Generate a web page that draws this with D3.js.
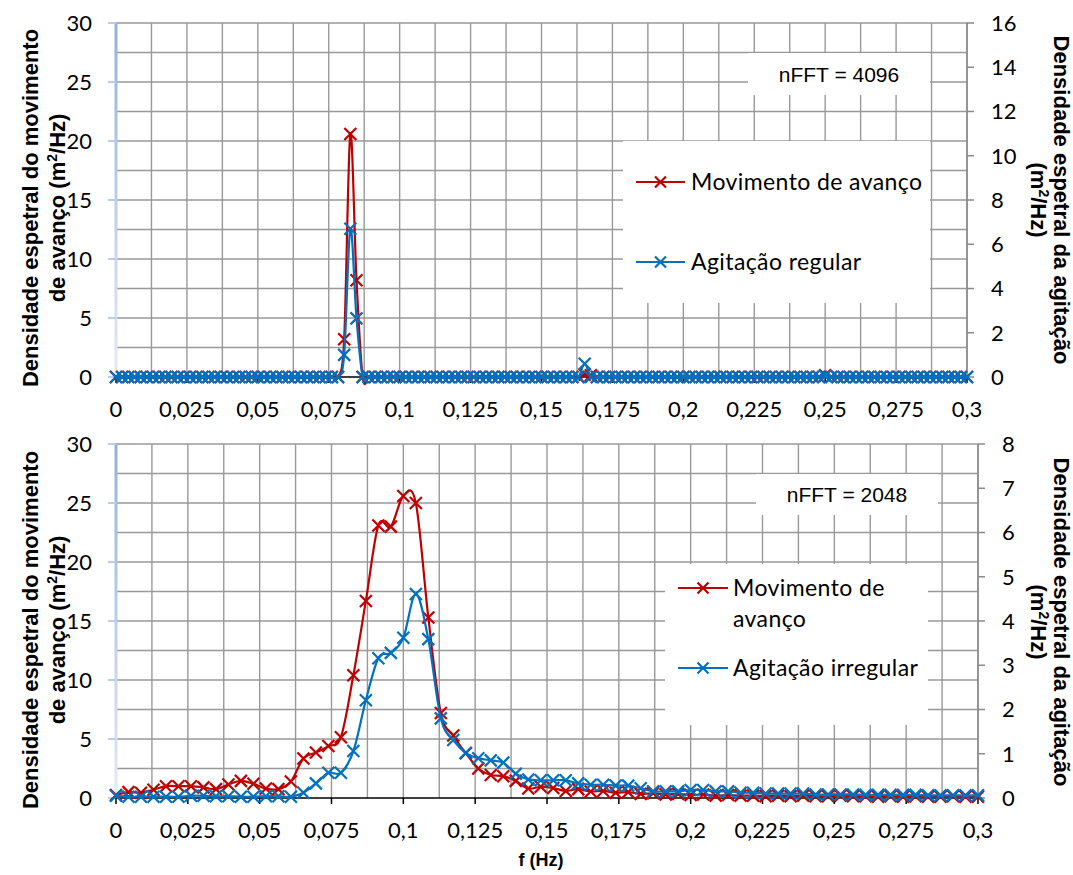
<!DOCTYPE html>
<html>
<head>
<meta charset="utf-8">
<script src="https://cdn.jsdelivr.net/npm/d3@7/dist/d3.min.js"></script>
<style>
  body { margin: 0; background: #fff; }
</style>
</head>
<body>
<svg id="chart" width="1073" height="875"></svg>
<script>
// FFT bin widths (frequency of bin k = k * df)
const dfTop = 0.3 / 138;   // nFFT = 4096
const dfBot = 0.3 / 69;    // nFFT = 2048

// top panel, regular waves: surge (left axis, m2/Hz) and wave (right axis)
const topSurge = [
  0,0,0,0,0,0,0,0,0,0, 0,0,0,0,0,0,0,0,0,0, 0,0,0,0,0,0,0,0,0,0,
  0,0,0,0,0,0,0,3.2,20.6,8.2, 0,0,0,0,0,0,0,0,0,0, 0,0,0,0,0,0,0,0,0,0,
  0,0,0,0,0,0,0,0,0,0, 0,0,0,0,0,0,0.2,0.15,0,0, 0,0,0,0,0,0,0,0,0,0,
  0,0,0,0,0,0,0,0,0,0, 0,0,0,0,0,0,0,0,0,0, 0,0,0,0,0,0.15,0,0,0,0,
  0,0,0,0,0,0,0,0,0,0, 0,0,0,0,0,0,0,0,0
];
const topWave = [
  0,0,0,0,0,0,0,0,0,0, 0,0,0,0,0,0,0,0,0,0, 0,0,0,0,0,0,0,0,0,0,
  0,0,0,0,0,0,0,1.0,6.7,2.65, 0,0,0,0,0,0,0,0,0,0, 0,0,0,0,0,0,0,0,0,0,
  0,0,0,0,0,0,0,0,0,0, 0,0,0,0,0,0,0.6,0,0,0, 0,0,0,0,0,0,0,0,0,0,
  0,0,0,0,0,0,0,0,0,0, 0,0,0,0,0,0,0,0,0,0, 0,0,0,0,0,0.05,0,0,0,0,
  0,0,0,0,0,0,0,0,0,0, 0,0,0,0,0,0,0,0,0
];

// bottom panel, irregular waves
const botSurge = [
  0.25,0.5,0.45,0.7,1.0,1.0,1.0,0.9,0.75,1.15,
  1.45,1.2,0.8,0.75,1.4,3.35,3.85,4.4,5.15,10.4,
  16.7,23.1,23.0,25.6,25.0,15.3,7.2,5.3,3.8,2.5,
  1.95,1.85,1.45,0.8,0.95,0.85,0.6,0.75,0.55,0.6,
  0.45,0.5,0.35,0.4,0.3,0.35,0.25,0.3,0.2,0.25,
  0.2,0.2,0.15,0.2,0.15,0.2,0.15,0.15,0.2,0.15,
  0.15,0.1,0.15,0.1,0.15,0.1,0.1,0.15,0.1,0.1
];
const botWave = [
  0.05,0.03,0.03,0.03,0.03,0.03,0.05,0.05,0.04,0.04,
  0.03,0.03,0.04,0.04,0.03,0.12,0.33,0.57,0.57,1.06,
  2.21,3.16,3.28,3.62,4.61,3.59,1.8,1.31,1.02,0.9,
  0.85,0.8,0.55,0.42,0.4,0.4,0.4,0.33,0.3,0.3,
  0.28,0.28,0.22,0.15,0.15,0.15,0.18,0.18,0.15,0.15,
  0.12,0.12,0.1,0.1,0.1,0.1,0.08,0.08,0.08,0.08,
  0.07,0.07,0.07,0.07,0.07,0.06,0.06,0.06,0.06,0.06
];

const xTicks = [0, 0.025, 0.05, 0.075, 0.1, 0.125, 0.15, 0.175, 0.2, 0.225, 0.25, 0.275, 0.3];
const leftTicks = [0, 5, 10, 15, 20, 25, 30];

const RED = '#c00000', BLUE = '#0070c0';
const FONT = 'Lato, Carlito, Calibri, sans-serif';
const ARIAL = '"Liberation Sans", Arial, sans-serif';

const panels = [
  {
    left: 116, right: 967, top: 23, bottom: 377,
    df: dfTop, surge: topSurge, wave: topWave,
    rightMax: 16, rightStep: 2,
    nfft: 'nFFT = 4096', nfftBox: [748, 53, 930, 95],
    legBox: [623, 141, 930, 303], legLine: [636, 685], legText: 691,
    legItems: [
      { color: RED, y: 182, lines: ['Movimento de avanço'] },
      { color: BLUE, y: 262, lines: ['Agitação regular'] }
    ],
    titleY: 208
  },
  {
    left: 116, right: 978, top: 444, bottom: 798,
    df: dfBot, surge: botSurge, wave: botWave,
    rightMax: 8, rightStep: 1,
    nfft: 'nFFT = 2048', nfftBox: [756, 474, 938, 515],
    legBox: [665, 564, 928, 725], legLine: [678, 728], legText: 733,
    legItems: [
      { color: RED, y: 588, lines: ['Movimento de', 'avanço'] },
      { color: BLUE, y: 668, lines: ['Agitação irregular'] }
    ],
    titleY: 630
  }
];

const svg = d3.select('#chart');
const defs = svg.append('defs');
const grad = defs.append('linearGradient').attr('id', 'axisBlue')
  .attr('x1', 0).attr('y1', 0).attr('x2', 0).attr('y2', 1);
grad.append('stop').attr('offset', '0%').attr('stop-color', '#93b1e0');
grad.append('stop').attr('offset', '100%').attr('stop-color', '#e2eaf6');

function cross(g, cx, cy, color, s = 6) {
  g.append('path')
    .attr('d', `M${cx - s},${cy - s}L${cx + s},${cy + s}M${cx - s},${cy + s}L${cx + s},${cy - s}`)
    .attr('stroke', color).attr('stroke-width', 2.2).attr('fill', 'none');
}

// "... (m²/Hz)" with a raised 2; shifts in px so the baseline comes back exactly
function unitLine(sel, prefix) {
  sel.append('tspan').text(prefix + '(m');
  sel.append('tspan').attr('dy', -8).style('font-size', '14px').text('2');
  sel.append('tspan').attr('dy', 8).text('/Hz)');
}

panels.forEach(p => {
  const x = d3.scaleLinear().domain([0, 0.3]).range([p.left, p.right]);
  const yL = d3.scaleLinear().domain([0, 30]).range([p.bottom, p.top]);
  const yR = d3.scaleLinear().domain([0, p.rightMax]).range([p.bottom, p.top]);
  const g = svg.append('g');

  // gridlines
  const vGrid = d3.range(1, 25).map(i => i * 0.0125);
  g.append('g').selectAll('line').data(vGrid).join('line')
    .attr('x1', d => x(d)).attr('x2', d => x(d))
    .attr('y1', p.top).attr('y2', p.bottom)
    .attr('stroke', '#999').attr('stroke-width', 1.4);
  const hGrid = d3.range(1, 13).map(i => i * 2.5);
  g.append('g').selectAll('line').data(hGrid).join('line')
    .attr('x1', p.left).attr('x2', p.right)
    .attr('y1', d => yL(d)).attr('y2', d => yL(d))
    .attr('stroke', '#999').attr('stroke-width', 1.4);

  // white boxes for label and legend
  [p.nfftBox, p.legBox].forEach(b => {
    g.append('rect').attr('x', b[0]).attr('y', b[1])
      .attr('width', b[2] - b[0]).attr('height', b[3] - b[1]).attr('fill', '#fff');
  });
  g.append('text')
    .attr('x', (p.nfftBox[0] + p.nfftBox[2]) / 2).attr('y', (p.nfftBox[1] + p.nfftBox[3]) / 2)
    .attr('dy', '0.36em').attr('text-anchor', 'middle')
    .style('font-family', ARIAL).style('font-size', '21px').attr('fill', '#000')
    .text(p.nfft);

  // left axis (light blue)
  g.append('rect').attr('x', p.left - 1.5).attr('y', p.top).attr('width', 3)
    .attr('height', p.bottom - p.top).attr('fill', 'url(#axisBlue)');
  g.append('g').selectAll('line').data(leftTicks).join('line')
    .attr('x1', p.left - 8).attr('x2', p.left)
    .attr('y1', d => yL(d)).attr('y2', d => yL(d))
    .attr('stroke', '#bccde9').attr('stroke-width', 2);
  g.append('g').selectAll('text').data(leftTicks).join('text')
    .attr('x', p.left - 24).attr('y', d => yL(d)).attr('dy', '0.36em')
    .attr('text-anchor', 'end')
    .style('font-family', FONT).style('font-size', '22px').text(d => d);

  // right axis
  const rTicks = d3.range(0, p.rightMax + 0.001, p.rightStep);
  g.append('line').attr('x1', p.right).attr('x2', p.right)
    .attr('y1', p.top).attr('y2', p.bottom).attr('stroke', '#8a8a8a').attr('stroke-width', 1.5);
  g.append('g').selectAll('line').data(rTicks).join('line')
    .attr('x1', p.right).attr('x2', p.right + 7)
    .attr('y1', d => yR(d)).attr('y2', d => yR(d))
    .attr('stroke', '#8a8a8a').attr('stroke-width', 1.5);
  g.append('g').selectAll('text').data(rTicks).join('text')
    .attr('x', p.right + 24).attr('y', d => yR(d)).attr('dy', '0.36em')
    .style('font-family', FONT).style('font-size', '22px').text(d => d);

  // bottom axis
  g.append('line').attr('x1', p.left).attr('x2', p.right)
    .attr('y1', p.bottom).attr('y2', p.bottom).attr('stroke', '#000').attr('stroke-width', 1.5);
  g.append('g').selectAll('line').data(xTicks).join('line')
    .attr('x1', d => x(d)).attr('x2', d => x(d))
    .attr('y1', p.bottom).attr('y2', p.bottom + 6)
    .attr('stroke', '#000').attr('stroke-width', 1.5);
  g.append('g').selectAll('text').data(xTicks).join('text')
    .attr('x', d => x(d)).attr('y', p.bottom + 40)
    .attr('text-anchor', 'middle')
    .style('font-family', FONT).style('font-size', '22px')
    .text(d => String(d).replace('.', ','));

  // series
  const line = d3.line().curve(d3.curveCatmullRom.alpha(0));
  const series = [
    { vals: p.surge, y: yL, color: RED },
    { vals: p.wave, y: yR, color: BLUE }
  ];
  series.forEach(s => {
    const pts = s.vals.map((v, k) => [x(k * p.df), s.y(v)]);
    g.append('path').attr('d', line(pts)).attr('fill', 'none')
      .attr('stroke', s.color).attr('stroke-width', 2.2);
    const mg = g.append('g');
    pts.forEach(pt => cross(mg, pt[0], pt[1], s.color));
  });

  // legend
  p.legItems.forEach(it => {
    g.append('line').attr('x1', p.legLine[0]).attr('x2', p.legLine[1])
      .attr('y1', it.y).attr('y2', it.y).attr('stroke', it.color).attr('stroke-width', 2);
    cross(g, (p.legLine[0] + p.legLine[1]) / 2, it.y, it.color, 5.5);
    it.lines.forEach((t, i) => {
      g.append('text').attr('x', p.legText).attr('y', it.y + i * 31).attr('dy', '0.36em')
        .style('font-family', FONT).style('font-size', '23px')
        .style('letter-spacing', '0.4px').text(t);
    });
  });

  // axis titles
  const lt1 = g.append('text')
    .attr('transform', `translate(30,${p.titleY}) rotate(-90)`)
    .attr('text-anchor', 'middle').attr('dy', '0.36em')
    .style('font-family', ARIAL).style('font-size', '22px').style('font-weight', 'bold')
    .text('Densidade espetral do movimento');
  const lt2 = g.append('text')
    .attr('transform', `translate(57,${p.titleY}) rotate(-90)`)
    .attr('text-anchor', 'middle').attr('dy', '0.36em')
    .style('font-family', ARIAL).style('font-size', '22px').style('font-weight', 'bold');
  unitLine(lt2, 'de avanço ');

  g.append('text')
    .attr('transform', `translate(1062,${p.titleY - 8}) rotate(90)`)
    .attr('text-anchor', 'middle').attr('dy', '0.36em')
    .style('font-family', ARIAL).style('font-size', '22px').style('font-weight', 'bold')
    .text('Densidade espetral da agitação');
  const rt2 = g.append('text')
    .attr('transform', `translate(1039,${p.titleY - 8}) rotate(90)`)
    .attr('text-anchor', 'middle').attr('dy', '0.36em')
    .style('font-family', ARIAL).style('font-size', '22px').style('font-weight', 'bold');
  unitLine(rt2, '');
});

svg.append('text').attr('x', 541).attr('y', 866).attr('text-anchor', 'middle')
  .style('font-family', ARIAL).style('font-size', '18px').style('font-weight', 'bold')
  .text('f (Hz)');
</script>
</body>
</html>
